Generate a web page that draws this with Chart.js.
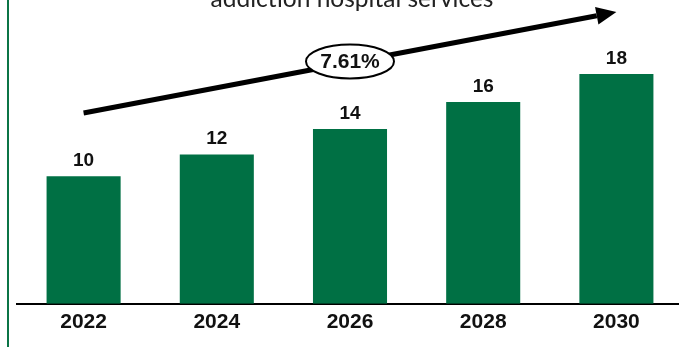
<!DOCTYPE html>
<html>
<head>
<meta charset="utf-8">
<script src="https://cdn.jsdelivr.net/npm/chart.js@4"></script>
<style>
  html, body { margin: 0; padding: 0; background: #fff; overflow: hidden; }
  #wrap { position: relative; width: 679px; height: 347px; overflow: hidden; }
  #leftLine { position: absolute; left: 7px; top: 0; width: 2px; height: 347px; background: #0b7446; }
  #chart { position: absolute; left: 0; top: 0; }
</style>
</head>
<body>
<div id="wrap">
  <canvas id="chart" width="683" height="347"></canvas>
  <div id="leftLine"></div>
</div>
<script>
const years = ['2022', '2024', '2026', '2028', '2030'];
const marketSize = [10.0, 11.7, 13.7, 15.8, 18.0];
const cagrLabel = '7.61%';
const titleText = 'addiction hospital services';

const barGreen = '#007044';

// value labels on top of bars
const valueLabels = {
  id: 'valueLabels',
  afterDatasetsDraw(chart) {
    const ctx = chart.ctx;
    const meta = chart.getDatasetMeta(0);
    ctx.save();
    ctx.font = 'bold 19px "Liberation Sans", Arial, sans-serif';
    ctx.fillStyle = '#111';
    ctx.textAlign = 'center';
    ctx.textBaseline = 'alphabetic';
    meta.data.forEach((bar, i) => {
      ctx.fillText(Math.round(marketSize[i]), bar.x, bar.y - 10);
    });
    ctx.restore();
  }
};

// cut-off title, growth arrow and CAGR bubble
const decorations = {
  id: 'decorations',
  afterDraw(chart) {
    const ctx = chart.ctx;
    const xs = chart.scales.x;
    ctx.save();

    // title (mostly above the visible area)
    ctx.font = '24.5px Lato, "Open Sans", sans-serif';
    ctx.fillStyle = '#222';
    ctx.textAlign = 'center';
    ctx.textBaseline = 'alphabetic';
    ctx.fillText(titleText, 352, 7);

    // arrow
    const x0 = xs.getPixelForValue(0), y0 = 113;
    const x1 = xs.getPixelForValue(years.length - 1), y1 = 12;
    const ang = Math.atan2(y1 - y0, x1 - x0);
    const headLen = 20, headW = 9;
    const bx = x1 - headLen * Math.cos(ang), by = y1 - headLen * Math.sin(ang);
    ctx.strokeStyle = '#000';
    ctx.lineWidth = 5;
    ctx.beginPath();
    ctx.moveTo(x0, y0);
    ctx.lineTo(bx, by);
    ctx.stroke();
    ctx.fillStyle = '#000';
    ctx.beginPath();
    ctx.moveTo(x1, y1);
    ctx.lineTo(bx + headW * Math.sin(ang), by - headW * Math.cos(ang));
    ctx.lineTo(bx - headW * Math.sin(ang), by + headW * Math.cos(ang));
    ctx.closePath();
    ctx.fill();

    // ellipse with CAGR
    const cx = xs.getPixelForValue(2), cy = 61.5;
    ctx.beginPath();
    ctx.ellipse(cx, cy, 44, 17, 0, 0, Math.PI * 2);
    ctx.fillStyle = '#fff';
    ctx.fill();
    ctx.lineWidth = 2;
    ctx.strokeStyle = '#000';
    ctx.stroke();
    ctx.font = 'bold 21px "Liberation Sans", Arial, sans-serif';
    ctx.fillStyle = '#111';
    ctx.textAlign = 'center';
    ctx.textBaseline = 'middle';
    ctx.fillText(cagrLabel, cx, cy + 1);

    ctx.restore();
  }
};

new Chart(document.getElementById('chart'), {
  type: 'bar',
  data: {
    labels: years,
    datasets: [{
      data: marketSize,
      backgroundColor: barGreen,
      borderWidth: 0,
      barPercentage: 1,
      categoryPercentage: 0.556
    }]
  },
  options: {
    responsive: false,
    animation: false,
    devicePixelRatio: 1,
    layout: { padding: { left: 17, right: 0, top: 0, bottom: 6 } },
    plugins: {
      legend: { display: false },
      tooltip: { enabled: false },
      title: { display: false }
    },
    scales: {
      x: {
        grid: { display: false, drawTicks: false },
        border: { display: true, color: '#000', width: 2 },
        ticks: {
          padding: 6,
          color: '#111',
          font: { family: '"Liberation Sans", Arial, sans-serif', size: 21, weight: 'bold' }
        }
      },
      y: {
        display: false,
        min: 0,
        max: 23.8
      }
    }
  },
  plugins: [valueLabels, decorations]
});
</script>
</body>
</html>
